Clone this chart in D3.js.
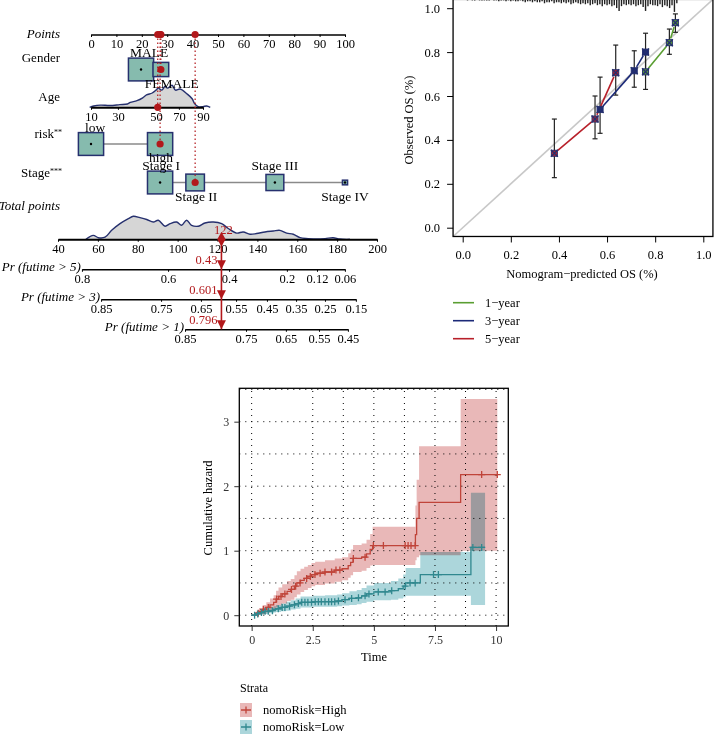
<!DOCTYPE html>
<html><head><meta charset="utf-8">
<script src="https://cdn.jsdelivr.net/npm/d3@7"></script>
<style>body{margin:0;background:#fff}svg{display:block}</style>
</head><body><svg id="c" width="714" height="736"></svg>
<script>
// ================= DATA =================
// Nomogram
const pointsTicks = [0,10,20,30,40,50,60,70,80,90,100];
const genderLevels = ["MALE","FEMALE"];
const genderPoints = [19.7, 27.5];
const genderFreq = [0.72, 0.28];
const ageTicks = [10,30,50,70,90];
const agePoints = [0,10.6,25.6,34.6,44.1];
const ageDensAge = [9,12,17,24,31,35,36.5,40,43,45,48,50,52,55,58,60,64,67,71,77,81,83,86,90,93,96];
const ageDensVal = [0,0.06,0.1,0.08,0.12,0.15,0.22,0.3,0.43,0.56,0.65,0.78,0.87,0.78,0.96,0.87,1.0,0.78,0.83,0.6,0.39,0.17,0.03,0.03,0.06,0];
const riskLevels = ["low","high"];
const riskPoints = [0, 27.2];
const riskFreq = [0.5, 0.5];
const stageLevels = ["Stage I","Stage II","Stage III","Stage IV"];
const stagePoints = [27.2, 41, 72.4, 100];
const stageFreq = [0.48, 0.26, 0.24, 0.02];
const totalTicks = [40,60,80,100,120,140,160,180,200];
const totDensPts = [54,57.7,60.2,63.6,66.9,71.1,75.3,77.8,81.1,84.5,87.8,90.3,93.7,96.2,99.5,102,104.5,107,110.4,113.7,117.9,122.1,125.4,129.6,132.9,136.3,139.6,143.8,148,151.3,154.7,158,161.4,165.5,169.7,174,178,181.4,186.4];
const totDensVal = [0,0.17,0.07,0.09,0.39,0.68,0.9,1,0.94,0.86,0.75,0.83,0.57,0.68,0.75,0.61,0.83,0.61,0.57,0.71,0.75,0.68,0.47,0.27,0.32,0.22,0.25,0.32,0.36,0.39,0.27,0.22,0.07,0.03,0.01,0.03,0.07,0.01,0];
const selGender = "FEMALE", selAge = 51.5, selRisk = "high", selStage = "Stage II";
const pr5Ticks = [0.8,0.6,0.4,0.2,0.12,0.06];
const pr5Total = [52,95.2,125.8,154.8,169.9,183.9];
const pr3Ticks = [0.85,0.75,0.65,0.55,0.45,0.35,0.25,0.15];
const pr3Total = [61.6,91.7,111.7,129.3,144.8,159.4,173.9,189.4];
const pr1Ticks = [0.85,0.75,0.65,0.55,0.45];
const pr1Total = [103.7,134.3,154.3,170.9,185.4];
const prLabels = ["Pr (futime > 5)","Pr (futime > 3)","Pr (futime > 1)"];
const prValues = [0.43, 0.601, 0.796];

// Calibration
const calTicks = [0,0.2,0.4,0.6,0.8,1.0];
const calNames = ["1\u2212year","3\u2212year","5\u2212year"];
const cal1Pred = [0.76,0.859,0.884], cal1Obs = [0.71,0.843,0.934], cal1Lo = [0.63,0.79,0.89], cal1Hi = [0.79,0.905,0.974];
const cal3Pred = [0.571,0.713,0.76], cal3Obs = [0.539,0.715,0.80], cal3Lo = [0.43,0.64,0.72], cal3Hi = [0.686,0.806,0.886];
const cal5Pred = [0.381,0.55,0.636], cal5Obs = [0.339,0.495,0.706], cal5Lo = [0.228,0.405,0.604], cal5Hi = [0.495,0.60,0.832];
const histStart = 0.02, histStep = 0.01;
const histCounts = [1,0,1,1,0,1,1,1,
  1,1,0,1,1,2,1,1,2,1,
  2,1,2,2,1,2,3,2,2,3,
  2,3,3,2,4,3,3,2,4,3,
  3,4,3,4,3,5,4,3,4,5,
  4,5,4,6,5,4,6,5,7,5,
  6,5,7,6,9,12,7,5,6,5,
  6,5,7,6,5,8,12,7,5,6,
  6,7,5,8,6,7,9,6,13,4];

// Cumulative hazard
const timeTicks = [0,2.5,5,7.5,10];
const hazTicks = [0,1,2,3];
const gridX = [0,2.5,3.75,5,6.25,7.5,8.75,10];
const gridY = [0,0.5,1,1.5,2,2.5,3,3.5];
const strata = ["nomoRisk=High","nomoRisk=Low"];
const highTime = [0,0.2,0.3,0.45,0.6,0.75,0.9,1.0,1.1,1.25,1.45,1.6,1.75,1.85,2.0,2.15,2.3,2.45,2.6,3.0,3.4,3.7,3.95,4.05,4.15,4.5,4.7,4.85,4.95,6.7,6.75,6.85,8.55,10.05];
const highHaz  = [0,0.03,0.06,0.09,0.12,0.16,0.2,0.25,0.29,0.33,0.37,0.4,0.45,0.5,0.54,0.57,0.6,0.63,0.65,0.67,0.7,0.72,0.77,0.82,0.88,0.9,0.95,1.02,1.08,1.25,1.5,1.75,2.18,2.18];
const highLo   = [0,0,0.01,0.02,0.04,0.06,0.09,0.12,0.15,0.18,0.22,0.24,0.28,0.32,0.36,0.39,0.42,0.45,0.47,0.49,0.52,0.54,0.58,0.62,0.67,0.69,0.73,0.77,0.78,0.85,0.9,0.93,1.0,1.0];
const highHi   = [0,0.07,0.11,0.16,0.2,0.26,0.31,0.38,0.43,0.48,0.53,0.56,0.62,0.68,0.72,0.75,0.78,0.81,0.83,0.85,0.88,0.9,0.96,1.02,1.09,1.11,1.17,1.26,1.37,1.7,2.1,2.62,3.35,3.35];
const highCens = [0.27,0.48,0.68,1.02,1.2,1.36,1.63,1.8,1.98,2.25,2.4,2.59,2.8,3.0,3.27,3.45,3.61,4.16,4.64,4.98,5.39,6.28,6.4,6.52,6.69,9.41,10.05];
const lowTime = [0,0.15,0.3,0.5,0.7,0.9,1.0,1.2,1.4,1.6,1.8,2.0,2.5,3.0,3.5,3.7,4.0,4.3,4.5,4.7,5.0,5.7,6.0,6.2,6.3,6.9,8.97,9.55];
const lowHaz  = [0,0.02,0.04,0.06,0.07,0.09,0.1,0.12,0.14,0.16,0.18,0.2,0.21,0.21,0.22,0.24,0.26,0.27,0.3,0.33,0.36,0.38,0.41,0.45,0.5,0.63,1.05,1.05];
const lowLo   = [0,0,0.01,0.02,0.03,0.04,0.05,0.06,0.07,0.09,0.1,0.12,0.13,0.13,0.14,0.15,0.16,0.17,0.19,0.21,0.23,0.24,0.26,0.28,0.3,0.3,0.16,0.16];
const lowHi   = [0,0.05,0.07,0.1,0.12,0.14,0.16,0.18,0.21,0.23,0.26,0.29,0.3,0.31,0.32,0.34,0.37,0.39,0.42,0.46,0.5,0.53,0.57,0.63,0.73,0.98,1.9,1.9];
const lowCens = [0.12,0.25,0.4,0.55,0.68,0.85,1.09,1.25,1.36,1.55,1.75,1.91,2.05,2.18,2.3,2.45,2.6,2.73,2.85,3.0,3.15,3.27,3.4,3.55,3.82,4.09,4.37,4.64,4.8,5.18,5.46,5.73,6.28,6.48,6.69,7.44,7.64,9.05,9.41];

// ================= DRAWING =================
const SERIF = '"Liberation Serif","DejaVu Serif",serif';
const RED = "#b2181b", NAVY = "#26306e", BOXF = "#86bbae";
const svg = d3.select("#c");
svg.append("rect").attr("width",714).attr("height",736).attr("fill","#fff");

function txt(g, x, y, s, opt={}) {
  const t = g.append("text").attr("x",x).attr("y",y).attr("dy","0.35em")
    .attr("font-family",SERIF).attr("font-size",opt.size||12)
    .attr("fill",opt.fill||"#000").attr("text-anchor",opt.anchor||"start").text(s);
  if (opt.italic) t.attr("font-style","italic");
  return t;
}
function styleAxis(ax, size, color) {
  ax.attr("font-family",SERIF).attr("font-size",size);
  ax.selectAll("text").attr("fill",color||"#000");
  ax.selectAll(".tick line").attr("stroke",color||"#000");
}

// ---------- Nomogram ----------
const N = svg.append("g");
const xPts = d3.scaleLinear([0,100],[91,345]);
const xTot = d3.scaleLinear([40,200],[58,377]);
const ageToPts = d3.scaleLinear(ageTicks, agePoints);
const ageX = a => xPts(ageToPts(a));

function nomoAxis(scale, ticks, y, width, fmt) {
  const a = d3.axisBottom(scale).tickValues(ticks).tickSize(2.5).tickPadding(2.5).tickSizeOuter(0);
  if (fmt) a.tickFormat(fmt);
  const ax = N.append("g").attr("transform",`translate(0,${y})`).call(a);
  ax.select(".domain").attr("stroke","#000").attr("stroke-width",width);
  styleAxis(ax, 12.5);
  return ax;
}

// row labels
txt(N, 60, 33, "Points", {anchor:"end", size:13, italic:true});
txt(N, 60, 57, "Gender", {anchor:"end", size:13});
txt(N, 60, 96, "Age", {anchor:"end", size:13});
const rl = txt(N, 62, 133, "risk", {anchor:"end", size:13});
rl.append("tspan").attr("font-size",8).attr("dy","-0.3em").text("**");
const sl = txt(N, 62, 172, "Stage", {anchor:"end", size:13});
sl.append("tspan").attr("font-size",8).attr("dy","-0.3em").text("***");
txt(N, 60, 205, "Total points", {anchor:"end", size:13, italic:true});

// points axis
const yPtsAxis = 34.5;
nomoAxis(xPts, pointsTicks, yPtsAxis, 1.5, d3.format("d"));

// categorical rows
function catRow(levels, pts, freq, y, sel, labelDx) {
  const maxF = d3.max(freq);
  const sz = freq.map(f => 24*Math.sqrt(f/maxF));
  N.append("line").attr("x1",xPts(d3.min(pts))).attr("x2",xPts(d3.max(pts)))
    .attr("y1",y).attr("y2",y).attr("stroke","#8a8a8a").attr("stroke-width",1.5);
  levels.forEach((lv,i) => {
    const cx = xPts(pts[i]), w = sz[i]*1.05, h = sz[i]*0.95;
    N.append("rect").attr("x",cx-w/2).attr("y",y-h/2).attr("width",w).attr("height",h)
      .attr("fill",BOXF).attr("stroke",NAVY).attr("stroke-width",1.5);
    if (lv === sel) {
      N.append("line").attr("x1",cx).attr("x2",cx).attr("y1",yPtsAxis).attr("y2",y)
        .attr("stroke",RED).attr("stroke-width",1.2).attr("stroke-dasharray","1.5,2.5");
      N.append("circle").attr("cx",cx).attr("cy",y).attr("r",3.6).attr("fill",RED);
      N.append("circle").attr("cx",cx).attr("cy",yPtsAxis).attr("r",3.6).attr("fill",RED);
    } else {
      N.append("circle").attr("cx",cx).attr("cy",y).attr("r",1.2).attr("fill","#000");
    }
    const ly = i%2===0 ? y-17 : y+13.5;
    txt(N, cx + (labelDx ? labelDx[i] : 0), ly, lv, {anchor:"middle", size:13.5});
  });
  return levels.indexOf(sel) >= 0 ? pts[levels.indexOf(sel)] : 0;
}

// Age density + axis
const yAge = 107.3;
const ageArea = d3.area().curve(d3.curveCatmullRom)
  .x((d,i)=>ageX(ageDensAge[i])).y0(yAge).y1((d,i)=>yAge - 22*ageDensVal[i]);
N.append("path").datum(ageDensAge).attr("d",ageArea).attr("fill","#d6d6d6").attr("stroke","none");
N.append("path").datum(ageDensAge).attr("d",ageArea.lineY1()).attr("fill","none").attr("stroke",NAVY).attr("stroke-width",1.4);

const gPts = catRow(genderLevels, genderPoints, genderFreq, 69.5, selGender, [8,11]);
nomoAxis(d3.scaleLinear(ageTicks, agePoints.map(xPts)), ageTicks, yAge, 2, d3.format("d"));
const aPts = ageToPts(selAge);
N.append("line").attr("x1",ageX(selAge)).attr("x2",ageX(selAge)).attr("y1",yPtsAxis).attr("y2",yAge)
  .attr("stroke",RED).attr("stroke-width",1.2).attr("stroke-dasharray","1.5,2.5");
N.append("circle").attr("cx",ageX(selAge)).attr("cy",yAge).attr("r",3.6).attr("fill",RED);
N.append("circle").attr("cx",ageX(selAge)).attr("cy",yPtsAxis).attr("r",3.6).attr("fill",RED);
const rPts = catRow(riskLevels, riskPoints, riskFreq, 144, selRisk, [4,1]);
const sPts = catRow(stageLevels, stagePoints, stageFreq, 182.5, selStage, [1,1,0,0]);

// Total points density + axis
const yTot = 239.3;
const totArea = d3.area().curve(d3.curveCatmullRom)
  .x((d,i)=>xTot(totDensPts[i])).y0(yTot).y1((d,i)=>yTot - 23*totDensVal[i]);
N.append("path").datum(totDensPts).attr("d",totArea).attr("fill","#d6d6d6");
N.append("path").datum(totDensPts).attr("d",totArea.lineY1()).attr("fill","none").attr("stroke",NAVY).attr("stroke-width",1.4);
nomoAxis(xTot, totalTicks, yTot, 2, d3.format("d"));

// Pr axes
const prY = [269.3, 299.3, 329.3];
const prSets = [[pr5Ticks,pr5Total],[pr3Ticks,pr3Total],[pr1Ticks,pr1Total]];
prSets.forEach(([tk,tt],k) => {
  const sc = d3.scaleLinear(tk, tt.map(xTot));
  nomoAxis(sc, tk, prY[k], 1.5, d=>String(d));
  txt(N, xTot(tt[0])-1, prY[k]-2.5, prLabels[k], {anchor:"end", size:13, italic:true});
});

// red result marker
const total = gPts + aPts + rPts + sPts;
const tx = xTot(total);
N.append("line").attr("x1",tx).attr("x2",tx).attr("y1",yTot).attr("y2",prY[2])
  .attr("stroke",RED).attr("stroke-width",1.6);
N.append("path").attr("d",d3.symbol(d3.symbolDiamond,60)())
  .attr("transform",`translate(${tx},${yTot})`).attr("fill",RED);
prY.forEach((py,k) => {
  N.append("path").attr("d",`M${tx-4.5},${py-9}L${tx+4.5},${py-9}L${tx},${py}Z`).attr("fill",RED);
  txt(N, tx-4, py-9.5, String(prValues[k]), {anchor:"end", fill:RED, size:12.5});
});
txt(N, tx+2, yTot-9.5, String(Math.round(total)), {anchor:"middle", fill:RED, size:12.5});

// ---------- Calibration ----------
const C = svg.append("g");
const cx = d3.scaleLinear([0,1],[462.7,703.3]);
const cy = d3.scaleLinear([0,1],[227.7,8.2]);
const cx0 = cx(-0.04), cx1 = cx(1.04), cy0 = cy(-0.04), cy1 = cy(1.04);
// histogram
const hs = d3.scaleLinear([0,13],[0,12.5]);
histCounts.forEach((c,i) => {
  if (!c) return;
  const v = histStart + i*histStep;
  C.append("line").attr("x1",cx(v)).attr("x2",cx(v)).attr("y1",cy1).attr("y2",cy1+hs(c))
    .attr("stroke","#222").attr("stroke-width",1.4);
});
// diagonal
C.append("line").attr("x1",cx(-0.04)).attr("y1",cy(-0.04)).attr("x2",cx(1.04)).attr("y2",cy(1.04))
  .attr("stroke","#c8c8c8").attr("stroke-width",1.6);
const calCols = ["#5a9e32","#1c2a78","#b8202a"];
const calSets = [[cal1Pred,cal1Obs,cal1Lo,cal1Hi],[cal3Pred,cal3Obs,cal3Lo,cal3Hi],[cal5Pred,cal5Obs,cal5Lo,cal5Hi]];
// error bars
calSets.forEach(([p,o,lo,hi]) => {
  p.forEach((v,i) => {
    const x = cx(v);
    C.append("line").attr("x1",x).attr("x2",x).attr("y1",cy(lo[i])).attr("y2",cy(hi[i])).attr("stroke","#222").attr("stroke-width",1.2);
    [lo[i],hi[i]].forEach(e => C.append("line").attr("x1",x-2.5).attr("x2",x+2.5).attr("y1",cy(e)).attr("y2",cy(e)).attr("stroke","#222").attr("stroke-width",1.2));
  });
});
// series lines with gaps
calSets.forEach(([p,o],k) => {
  for (let i=0;i<p.length-1;i++) {
    const x1=cx(p[i]), y1=cy(o[i]), x2=cx(p[i+1]), y2=cy(o[i+1]);
    const L = Math.hypot(x2-x1,y2-y1), g = 4.5;
    if (L <= 2*g) continue;
    const ux=(x2-x1)/L, uy=(y2-y1)/L;
    C.append("line").attr("x1",x1+ux*g).attr("y1",y1+uy*g).attr("x2",x2-ux*g).attr("y2",y2-uy*g)
      .attr("stroke",calCols[k]).attr("stroke-width",1.6);
  }
});
// markers
calSets.forEach(([p,o],k) => {
  p.forEach((v,i) => {
    const x=cx(v), y=cy(o[i]);
    C.append("rect").attr("x",x-3).attr("y",y-3).attr("width",6).attr("height",6)
      .attr("fill",calCols[k]).attr("stroke",NAVY).attr("stroke-width",1);
    C.append("path").attr("d",`M${x-3.5},${y-3.5}L${x+3.5},${y+3.5}M${x-3.5},${y+3.5}L${x+3.5},${y-3.5}`)
      .attr("stroke",NAVY).attr("stroke-width",1.4);
  });
});
// frame
C.append("rect").attr("x",cx0).attr("y",cy1).attr("width",cx1-cx0).attr("height",cy0-cy1)
  .attr("fill","none").attr("stroke","#000").attr("stroke-width",1.3);
const cax = C.append("g").attr("transform",`translate(0,${cy0})`)
  .call(d3.axisBottom(cx).tickValues(calTicks).tickFormat(d3.format(".1f")).tickSize(6).tickPadding(8).tickSizeOuter(0));
cax.select(".domain").remove(); styleAxis(cax, 12.5);
const cay = C.append("g").attr("transform",`translate(${cx0},0)`)
  .call(d3.axisLeft(cy).tickValues(calTicks).tickFormat(d3.format(".1f")).tickSize(6).tickPadding(7).tickSizeOuter(0));
cay.select(".domain").remove(); styleAxis(cay, 12.5);
txt(C, 582, 274, "Nomogram\u2212predicted OS (%)", {anchor:"middle", size:12.5});
txt(C, 0, 0, "Observed OS (%)", {anchor:"middle", size:12.5}).attr("transform","translate(409,120) rotate(-90)");
// legend
[302.7,320.7,338.7].forEach((ly,k) => {
  C.append("line").attr("x1",453).attr("x2",474).attr("y1",ly).attr("y2",ly).attr("stroke",calCols[k]).attr("stroke-width",1.6);
  txt(C, 485, ly, calNames[k], {size:12.5});
});

// ---------- Cumulative hazard ----------
const H = svg.append("g");
const hx = d3.scaleLinear([-0.505,10.5],[239.3,508.3]);
const hy = d3.scaleLinear([-0.1675,3.5175],[626,388.3]);
const PINK = "#e9b8b8", LBLUE = "#acd6db", CRED = "#c0443a", CTEAL = "#30888f";
function band(times, lo, hi, fill) {
  const ar = d3.area().curve(d3.curveStepAfter).x((d,i)=>hx(times[i])).y0((d,i)=>hy(lo[i])).y1((d,i)=>hy(hi[i]));
  H.append("path").datum(times).attr("d",ar).attr("fill",fill).style("mix-blend-mode","multiply");
}
band(highTime, highLo, highHi, PINK);
band(lowTime, lowLo, lowHi, LBLUE);
// grid
gridY.forEach(v => H.append("line").attr("x1",hx.range()[0]).attr("x2",hx.range()[1]).attr("y1",hy(v)).attr("y2",hy(v))
  .attr("stroke","#000").attr("stroke-width",1).attr("stroke-dasharray","1,5"));
gridX.forEach(v => H.append("line").attr("x1",hx(v)).attr("x2",hx(v)).attr("y1",hy.range()[0]).attr("y2",hy.range()[1])
  .attr("stroke","#000").attr("stroke-width",1).attr("stroke-dasharray","1,5"));
function curve(times, haz, cens, col) {
  const ln = d3.line().curve(d3.curveStepAfter).x((d,i)=>hx(times[i])).y((d,i)=>hy(haz[i]));
  H.append("path").datum(times).attr("d",ln).attr("fill","none").attr("stroke",col).attr("stroke-width",1.3);
  cens.forEach(t => {
    const i = Math.max(0, d3.bisectRight(times, t) - 1);
    const x = hx(t), y = hy(haz[i]);
    H.append("path").attr("d",`M${x-3.5},${y}H${x+3.5}M${x},${y-3.5}V${y+3.5}`).attr("stroke",col).attr("stroke-width",1.3);
  });
}
curve(highTime, highHaz, highCens, CRED);
curve(lowTime, lowHaz, lowCens, CTEAL);
H.append("rect").attr("x",hx.range()[0]).attr("y",hy.range()[1]).attr("width",hx.range()[1]-hx.range()[0])
  .attr("height",hy.range()[0]-hy.range()[1]).attr("fill","none").attr("stroke","#000").attr("stroke-width",1.3);
const hax = H.append("g").attr("transform",`translate(0,${hy.range()[0]})`)
  .call(d3.axisBottom(hx).tickValues(timeTicks).tickFormat(d=>String(d)).tickSize(5).tickPadding(4).tickSizeOuter(0));
hax.select(".domain").remove(); styleAxis(hax, 12, "#333");
const hay = H.append("g").attr("transform",`translate(${hx.range()[0]},0)`)
  .call(d3.axisLeft(hy).tickValues(hazTicks).tickFormat(d3.format("d")).tickSize(5).tickPadding(5).tickSizeOuter(0));
hay.select(".domain").remove(); styleAxis(hay, 12, "#333");
txt(H, 374, 657, "Time", {anchor:"middle", size:12.5});
txt(H, 0, 0, "Cumulative hazard", {anchor:"middle", size:12.5}).attr("transform","translate(208,508) rotate(-90)");
// legend
txt(H, 240, 688, "Strata", {size:12});
[[PINK,CRED,710],[LBLUE,CTEAL,727]].forEach(([f,c,ly],k) => {
  H.append("rect").attr("x",240).attr("y",ly-7).attr("width",12).attr("height",14).attr("fill",f);
  H.append("path").attr("d",`M241,${ly}H251M246,${ly-3.5}V${ly+3.5}`).attr("stroke",c).attr("stroke-width",1.3);
  txt(H, 263, ly, strata[k], {size:12.5});
});
</script></body></html>
